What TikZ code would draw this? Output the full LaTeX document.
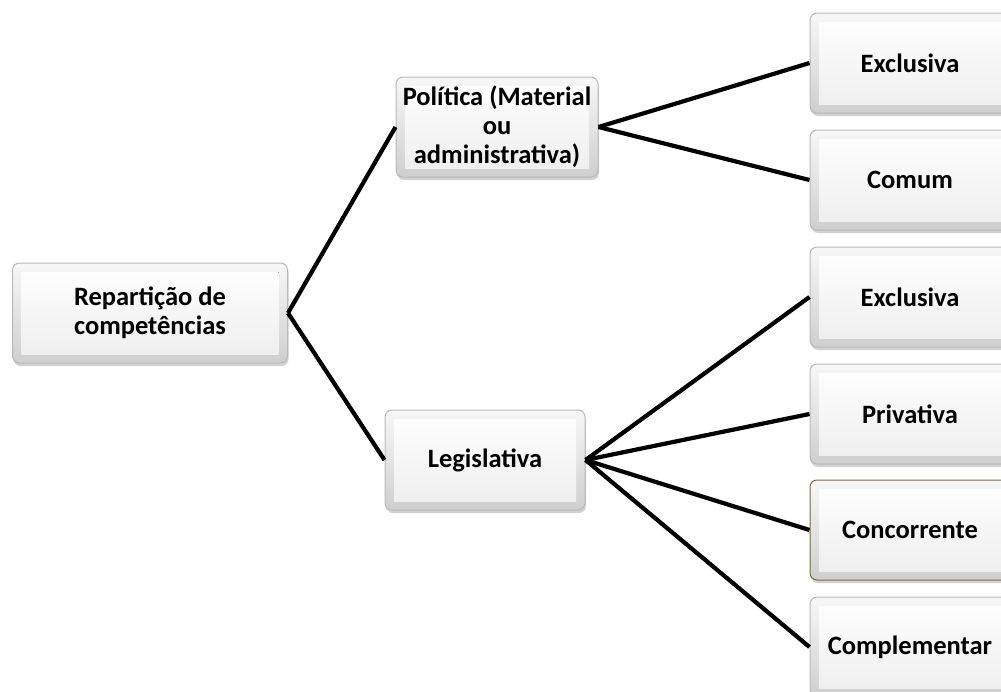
\documentclass[tikz,border=0pt]{standalone}
\usepackage{fontspec}
\setmainfont{Carlito}
\usetikzlibrary{positioning,shadows}
\definecolor{concborder}{RGB}{125,105,60}

\begin{document}
\begin{tikzpicture}[
        x=1pt, y=-1pt,
        box/.style={draw=gray!55, line width=1pt, rounded corners=7pt,
            top color=gray!6, bottom color=gray!38,
            minimum height=100pt, inner sep=0pt, align=center,
            font=\fontsize{26.5}{29}\selectfont\bfseries,
            drop shadow={shadow xshift=1pt, shadow yshift=-3pt, opacity=0.35},
            path picture={\fill[sharp corners, top color=white, bottom color=gray!14]
                ([shift={(9pt,-9pt)}]path picture bounding box.north west) rectangle
                ([shift={(-9pt,9pt)}]path picture bounding box.south east);}},
        link/.style={line width=4.2pt, black}
        ]
        \fill[white] (0,0) rectangle (1001,691);
        \useasboundingbox (0,0) rectangle (1001,691);

        % Define the nodes
        \node[box, minimum width=275pt] (root) at (150,313) {Repartição de\\competências};
        \node[box, minimum width=202pt] (pol) at (497,127) {Política (Material\\ou\\administrativa)};
        \node[box, minimum width=200pt] (leg) at (485,460) {Legislativa};

        \node[box, minimum width=200pt] (ex1) at (910,63) {Exclusiva};
        \node[box, minimum width=200pt] (com) [below=16pt of ex1] {Comum};
        \node[box, minimum width=200pt] (ex2) [below=16pt of com] {Exclusiva};
        \node[box, minimum width=200pt] (priv) [below=16pt of ex2] {Privativa};
        \node[box, minimum width=200pt, draw=concborder] (conc) [below=15pt of priv] {Concorrente};
        \node[box, minimum width=200pt] (compl) [below=16pt of conc] {Complementar};

        % Draw the lines
        \draw[link] (root.east) -- (pol.west);
        \draw[link] (root.east) -- (leg.west);
        \draw[link] (pol.east) -- (ex1.west);
        \draw[link] (pol.east) -- (com.west);
        \draw[link] (leg.east) -- (ex2.west);
        \draw[link] (leg.east) -- (priv.west);
        \draw[link] (leg.east) -- (conc.west);
        \draw[link] (leg.east) -- (compl.west);
    \end{tikzpicture}
\end{document}
